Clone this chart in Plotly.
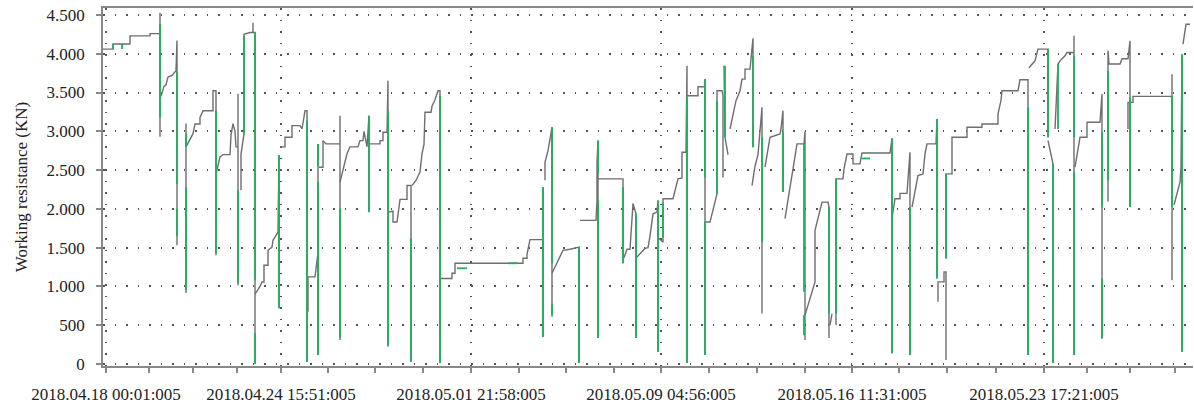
import plotly.graph_objects as go

# 1. Data (x = sample number, y = working resistance in KN)
# grey trace, one list per unbroken run of the line
grey_runs = [
    [(3, 4060), (13, 4060), (13, 4125), (30, 4125), (30, 4230), (50, 4230), (50, 4260), (60, 4260), (60, 4530), (60, 2930)],
    [(61, 3450), (64, 3580), (66, 3600), (68, 3700), (72, 3720), (76, 3780), (77, 4170), (77, 1530)],
    [(86, 3100), (86, 916), (86, 2800), (93, 2970), (95, 3095), (100, 3095), (100, 3180), (103, 3266), (113, 3266), (113, 3524), (116, 3524), (116, 1402)],
    [(116, 2450), (120, 2670), (123, 2700), (130, 2700), (131, 2950), (133, 3100), (135, 3000), (136, 2800), (138, 2800), (138, 3484), (138, 1016)],
    [(141, 2240), (141, 2706), (144, 2967), (144, 4252), (150, 4274), (153, 4274), (153, 4400), (153, 4274), (155, 4274), (155, 13)],
    [(155, 900), (160, 1000), (162, 1058), (164, 1058), (164, 1273), (168, 1273), (168, 1466), (172, 1508), (173, 1595), (176, 1650), (178, 1700), (179, 2690), (179, 720)],
    [(180, 2800), (185, 2800), (185, 2923), (192, 2923), (192, 3073), (200, 3073), (202, 3030), (205, 3266), (207, 3266), (207, 30)],
    [(208, 672), (208, 1123), (215, 1123), (217, 1380), (218, 1437), (218, 2838), (218, 116)],
    [(219, 2537), (223, 2537), (223, 2880), (226, 2838), (240, 2838), (240, 3202), (240, 309)],
    [(240, 2344), (247, 2710), (250, 2800), (258, 2800), (260, 2880), (263, 2880), (264, 3000), (267, 2800), (269, 3202), (269, 1958)],
    [(270, 2838), (280, 2838), (280, 2880), (283, 2880), (283, 2988), (287, 2988), (288, 3652), (288, 222)],
    [(288, 1958), (293, 1970), (293, 1830), (297, 1830), (300, 2122), (307, 2122), (307, 2302), (311, 2302), (311, 30)],
    [(312, 2300), (316, 2366), (320, 2475), (322, 2710), (324, 2830), (325, 3245), (331, 3245), (332, 3324), (335, 3408), (338, 3524), (340, 3524), (340, 13)],
    [(340, 1103), (352, 1103), (352, 1170), (355, 1170), (355, 1299), (423, 1299), (423, 1363), (427, 1363), (427, 1415), (429, 1556), (430, 1603), (443, 1603), (443, 2280), (443, 347)],
    [(445, 2370), (445, 2600), (448, 2750), (451, 3000), (452, 3052), (452, 608)],
    [(452, 1170), (463, 1466), (470, 1480), (479, 1508), (479, 13)],
    [(480, 1852), (496, 1852), (497, 2109), (497, 2602), (498, 2880), (498, 334)],
    [(498, 2387), (523, 2387), (523, 1300)],
    [(524, 1370), (527, 1480), (530, 1480), (533, 2070), (536, 1937), (536, 334)],
    [(537, 1380), (545, 1490), (548, 1500), (550, 1650), (553, 1937), (557, 1958), (558, 2109), (558, 158)],
    [(558, 1630), (563, 1570), (563, 2131), (573, 2131), (578, 2387), (582, 2400), (582, 2730), (586, 2730), (587, 3845), (587, 13)],
    [(587, 3459), (598, 3459), (598, 3575), (605, 3575), (605, 3673), (605, 116)],
    [(605, 1830), (610, 1830), (617, 2196), (617, 3524), (622, 3524), (623, 3459), (623, 2405)],
    [(624, 3845), (625, 2923), (628, 2700)],
    [(630, 3030), (633, 3200), (636, 3395), (640, 3520), (642, 3673), (645, 3673), (645, 3802), (650, 3802), (653, 4200), (653, 2795)],
    [(652, 2300), (655, 2550), (658, 2700), (662, 3309), (662, 651)],
    [(665, 2537), (670, 2923), (680, 2967), (681, 3030), (683, 3266), (683, 2216)],
    [(685, 1873), (697, 2838), (704, 2838), (705, 3000), (705, 309)],
    [(705, 630), (715, 1058), (715, 1723), (722, 2087), (728, 2087), (729, 2023), (729, 334)],
    [(730, 500), (732, 650)],
    [(736, 501), (736, 2387), (743, 2387), (744, 2515), (747, 2708), (753, 2708), (753, 2580), (760, 2580), (762, 2720), (790, 2720), (792, 2914), (792, 137)],
    [(792, 1880), (795, 2100), (795, 2131), (800, 2131), (800, 2200), (807, 2200), (810, 2730), (810, 116)],
    [(812, 2023), (818, 2430), (823, 2451), (825, 2708), (827, 2838), (836, 2838), (837, 3159), (837, 1102)],
    [(838, 801), (838, 1059), (844, 1059), (844, 1187), (846, 1187), (846, 51)],
    [(846, 1359), (846, 2451), (852, 2451), (852, 2923), (867, 2923), (867, 3052), (882, 3052), (882, 3095), (898, 3095), (898, 3224), (901, 3400), (902, 3524), (918, 3524), (920, 3665), (928, 3665), (928, 116)],
    [(929, 3820), (935, 3909), (938, 4060), (948, 4060), (948, 2923)],
    [(948, 2880), (953, 2580), (953, 13)],
    [(955, 3030), (958, 3867), (960, 3909), (965, 3974), (967, 4016), (974, 4016), (974, 4231), (974, 116)],
    [(975, 2537), (980, 2923), (987, 2923), (987, 3116), (1000, 3116), (1002, 3481), (1002, 330)],
    [(1008, 2096), (1008, 4038), (1009, 3867), (1020, 3867), (1022, 3935), (1028, 3935), (1030, 4166), (1030, 2023)],
    [(1028, 3030), (1028, 3373), (1033, 3373), (1033, 3451), (1072, 3451), (1072, 3737), (1072, 1080)],
    [(1074, 2050), (1080, 2344), (1081, 2540), (1082, 3995), (1082, 158)],
    [(1083, 4124), (1085, 4338), (1086, 4380), (1090, 4380)],
]

# green parts (mostly the sudden jumps)
green_runs = [
    [(13, 4060), (13, 4125)], [(22, 4060), (22, 4125)],
    [(60, 4380), (60, 3180)],
    [(77, 3760), (77, 2320)], [(77, 2000), (77, 1650)],
    [(86, 2970), (86, 2800)], [(86, 2280), (86, 950)],
    [(116, 3266), (116, 1430)],
    [(138, 2237), (138, 1040)],
    [(144, 4230), (144, 2970)],
    [(155, 4274), (155, 1080)], [(155, 400), (155, 0)],
    [(179, 2690), (179, 720)],
    [(207, 3140), (207, 30)],
    [(218, 2838), (218, 2550)], [(218, 2350), (218, 116)],
    [(240, 2006), (240, 334)],
    [(269, 3200), (269, 1960)],
    [(288, 3266), (288, 240)],
    [(311, 1620), (311, 30)],
    [(340, 3460), (340, 13)],
    [(357, 1234), (367, 1234)],
    [(408, 1299), (418, 1299)],
    [(443, 2280), (443, 347)],
    [(452, 3052), (452, 1300)], [(452, 780), (452, 630)],
    [(479, 1508), (479, 13)],
    [(498, 2880), (498, 2450)], [(498, 2109), (498, 334)],
    [(523, 2280), (523, 1300)],
    [(536, 1937), (536, 334)],
    [(558, 2109), (558, 158)],
    [(563, 2080), (563, 1630)],
    [(587, 3437), (587, 13)],
    [(605, 3673), (605, 2400)], [(605, 1830), (605, 116)],
    [(617, 3395), (617, 2196)],
    [(625, 3845), (625, 2923)],
    [(653, 3974), (653, 2795)],
    [(662, 2923), (662, 1573)],
    [(683, 2988), (683, 2216)],
    [(704, 2838), (704, 930)], [(704, 630), (704, 372)],
    [(729, 2023), (729, 651)],
    [(736, 2387), (736, 650)],
    [(762, 2650), (770, 2650)],
    [(792, 2900), (792, 137)],
    [(810, 2023), (810, 116)],
    [(837, 3159), (837, 1102)],
    [(846, 2451), (846, 1359)],
    [(928, 3309), (928, 116)],
    [(948, 4060), (948, 2923)],
    [(953, 2580), (953, 13)],
    [(958, 3867), (958, 3030)],
    [(974, 3974), (974, 2923)], [(974, 2480), (974, 116)],
    [(1002, 2990), (1002, 2020)], [(1002, 1100), (1002, 330)],
    [(1008, 3781), (1008, 2366)],
    [(1030, 3437), (1030, 2023)],
    [(1072, 3451), (1072, 2023)],
    [(1082, 3995), (1082, 158)],
]

# axis ticks
x_label_pos = [6, 181, 371, 561, 752, 944]
x_label_text = ["2018.04.18 00:01:005", "2018.04.24 15:51:005", "2018.05.01 21:58:005",
                "2018.05.09 04:56:005", "2018.05.16 11:31:005", "2018.05.23 17:21:005"]
x_minor_pos = [49, 93, 137, 228, 275, 323, 419, 466, 514, 609, 657, 705,
               799, 847, 896, 987, 1030, 1075]
y_ticks = [0, 500, 1000, 1500, 2000, 2500, 3000, 3500, 4000, 4500]


# 2. Preparation: join the runs, a None breaks the line between them
def join_runs(runs):
    xs, ys = [], []
    for run in runs:
        for x, y in run:
            xs.append(x)
            ys.append(y)
        xs.append(None)
        ys.append(None)
    return xs, ys


grey_x, grey_y = join_runs(grey_runs)
green_x, green_y = join_runs(green_runs)

# 3. Create line chart
fig = go.Figure()
fig.add_trace(go.Scatter(x=grey_x, y=grey_y, mode="lines", connectgaps=False,
                         line=dict(color="#6e6e6e", width=1.4), showlegend=False))
fig.add_trace(go.Scatter(x=green_x, y=green_y, mode="lines", connectgaps=False,
                         line=dict(color="#1fb05e", width=1.8), showlegend=False))

axis_font = dict(family="Liberation Serif", size=17, color="#222222")
fig.update_layout(
    width=1194, height=406,
    margin=dict(l=103, r=1, t=8, b=40),
    paper_bgcolor="white", plot_bgcolor="white",
    separators=",.",
    font=axis_font,
    xaxis=dict(range=[3, 1093], automargin=False,
               showline=True, linecolor="#888888", linewidth=1.5, mirror=True,
               tickmode="array", tickvals=x_label_pos, ticktext=x_label_text,
               ticks="outside", ticklen=5, tickcolor="#888888", tickwidth=1.5,
               ticklabelstandoff=7, ticklabeloverflow="allow",
               showgrid=True, gridcolor="#555555", gridwidth=1.5, griddash="1.5px,10px",
               minor=dict(tickmode="array", tickvals=x_minor_pos, ticks="outside", ticklen=5,
                          tickcolor="#888888", tickwidth=1.5, showgrid=False),
               zeroline=False, tickfont=axis_font),
    yaxis=dict(range=[-26, 4590], automargin=False,
               showline=True, linecolor="#888888", linewidth=1.5,
               tickmode="array", tickvals=y_ticks, tickformat=",d",
               ticks="outside", ticklen=5, tickcolor="#888888", tickwidth=1.5,
               ticklabelstandoff=8, ticklabeloverflow="allow",
               showgrid=True, gridcolor="#555555", gridwidth=1.5, griddash="1.5px,10px",
               zeroline=False, tickfont=axis_font,
               title=dict(text="Working resistance (KN)", font=axis_font, standoff=15)),
)

# 4. Save (no toolbar, and drop the page's default body margin so the figure fills the window)
fig.write_html("out.html", config={"displayModeBar": False},
               post_script="document.body.style.margin = '0px';")
print("Chart saved to out.html")
